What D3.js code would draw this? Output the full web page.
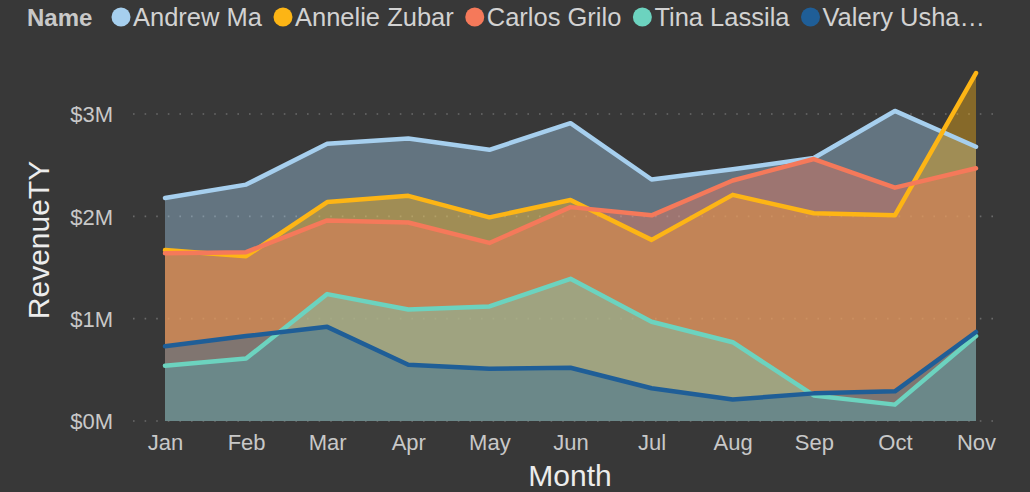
<!DOCTYPE html>
<html>
<head>
<meta charset="utf-8">
<script src="https://cdn.jsdelivr.net/npm/d3@7"></script>
<style>
  html, body { margin: 0; padding: 0; background: #383838; }
  svg { display: block; font-family: "Liberation Sans", Arial, sans-serif; }
</style>
</head>
<body>
<div id="chart-area"></div>
<script>
const WIDTH = 1030,
    HEIGHT = 492,
    X_LEFT = 165,
    X_RIGHT = 976,
    GRID_LEFT = 133,
    GRID_RIGHT = 999,
    Y_BOTTOM = 421,
    Y_TOP = 114,
    AREA_OPACITY = 0.4,
    LINE_WIDTH = 4.5,
    BG = '#383838';

// data (values in $M)
const months = ['Jan', 'Feb', 'Mar', 'Apr', 'May', 'Jun', 'Jul', 'Aug', 'Sep', 'Oct', 'Nov'];
const names = ['Andrew Ma', 'Annelie Zubar', 'Carlos Grilo', 'Tina Lassila', 'Valery Usha…'];
const colors = ['#A6CFEE', '#FDB515', '#F5795A', '#6CD3BF', '#1F5E97'];
const andrewMa = [2.18, 2.31, 2.71, 2.76, 2.65, 2.91, 2.36, 2.46, 2.57, 3.03, 2.68];
const annelieZubar = [1.67, 1.61, 2.14, 2.20, 1.99, 2.16, 1.77, 2.21, 2.03, 2.01, 3.40];
const carlosGrilo = [1.64, 1.65, 1.96, 1.94, 1.74, 2.09, 2.01, 2.35, 2.56, 2.28, 2.47];
const tinaLassila = [0.54, 0.61, 1.24, 1.09, 1.12, 1.39, 0.97, 0.77, 0.25, 0.16, 0.83];
const valeryUsha = [0.73, 0.83, 0.92, 0.55, 0.51, 0.52, 0.32, 0.21, 0.27, 0.29, 0.87];
const yTicks = [0, 1, 2, 3];

const seriesValues = [andrewMa, annelieZubar, carlosGrilo, tinaLassila, valeryUsha];
const series = names.map((name, i) => ({
    name,
    color: colors[i],
    values: seriesValues[i].map((v, j) => ({ month: months[j], value: v }))
}));

const svg = d3.select('#chart-area')
    .append('svg')
    .attr('width', WIDTH)
    .attr('height', HEIGHT);

svg.append('rect').attr('width', WIDTH).attr('height', HEIGHT).attr('fill', BG);

const x = d3.scalePoint().domain(months).range([X_LEFT, X_RIGHT]);
const y = d3.scaleLinear().domain([0, 3]).range([Y_BOTTOM, Y_TOP]);

// gridlines
svg.append('g')
    .selectAll('line')
    .data(yTicks)
    .join('line')
    .attr('x1', GRID_LEFT)
    .attr('x2', GRID_RIGHT)
    .attr('y1', d => y(d))
    .attr('y2', d => y(d))
    .attr('stroke', '#6a6a6a')
    .attr('stroke-width', 1.6)
    .attr('stroke-dasharray', '1.6 10');

// y axis
const yAxis = svg.append('g')
    .attr('transform', `translate(${GRID_LEFT - 20},0)`)
    .call(d3.axisLeft(y).tickValues(yTicks).tickFormat(d => '$' + d + 'M').tickSize(0).tickPadding(0));
yAxis.select('.domain').remove();
yAxis.selectAll('text')
    .attr('fill', '#c8c8c8')
    .attr('font-size', 22)
    .attr('dy', '0.36em');

// x axis
const xAxis = svg.append('g')
    .attr('transform', `translate(0,${Y_BOTTOM})`)
    .call(d3.axisBottom(x).tickSize(0).tickPadding(0));
xAxis.select('.domain').remove();
xAxis.selectAll('text')
    .attr('fill', '#c8c8c8')
    .attr('font-size', 22)
    .attr('dy', '1.3em');

// areas
const area = d3.area()
    .x(d => x(d.month))
    .y0(y(0))
    .y1(d => y(d.value));

svg.append('g')
    .selectAll('path')
    .data(series)
    .join('path')
    .attr('d', d => area(d.values))
    .attr('fill', d => d.color)
    .attr('fill-opacity', AREA_OPACITY);

// lines
const line = d3.line()
    .x(d => x(d.month))
    .y(d => y(d.value));

svg.append('g')
    .selectAll('path')
    .data(series)
    .join('path')
    .attr('d', d => line(d.values))
    .attr('fill', 'none')
    .attr('stroke', d => d.color)
    .attr('stroke-width', LINE_WIDTH)
    .attr('stroke-linejoin', 'round')
    .attr('stroke-linecap', 'round');

// axis titles
svg.append('text')
    .attr('transform', 'translate(49,240) rotate(-90)')
    .attr('text-anchor', 'middle')
    .attr('fill', '#ececec')
    .attr('font-size', 30)
    .text('RevenueTY');

svg.append('text')
    .attr('x', 570)
    .attr('y', 486)
    .attr('text-anchor', 'middle')
    .attr('fill', '#ececec')
    .attr('font-size', 30)
    .text('Month');

// legend
const legend = svg.append('g').attr('font-size', 25.5);
legend.append('text')
    .attr('x', 27)
    .attr('y', 26)
    .attr('font-weight', 'bold')
    .attr('font-size', 24)
    .attr('fill', '#c8c8c8')
    .text('Name');

let lx = 112;
series.forEach(s => {
    legend.append('circle')
        .attr('cx', lx + 9)
        .attr('cy', 17)
        .attr('r', 9.5)
        .attr('fill', s.color);
    const t = legend.append('text')
        .attr('x', lx + 21)
        .attr('y', 26)
        .attr('fill', '#d2d2d2')
        .text(s.name);
    lx += 21 + t.node().getComputedTextLength() + 12;
});
</script>
</body>
</html>
